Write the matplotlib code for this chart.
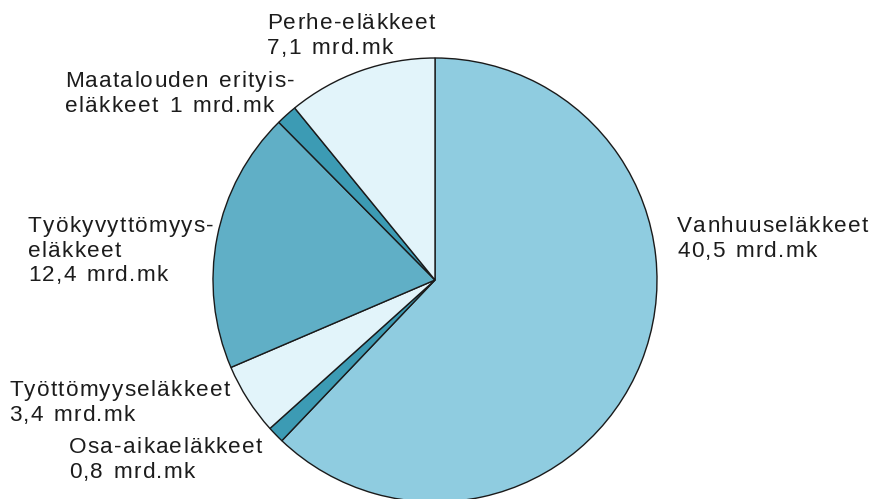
import matplotlib.pyplot as plt
from matplotlib.font_manager import FontProperties, findfont
from matplotlib.ft2font import FT2Font

# pension expenditure, clockwise from the top
labels = ["Vanhuuseläkkeet\n40,5 mrd.mk",
          "Osa-aikaeläkkeet\n0,8 mrd.mk",
          "Työttömyyseläkkeet\n3,4 mrd.mk",
          "Työkyvyttömyys-\neläkkeet\n12,4 mrd.mk",
          "Maatalouden erityis-\neläkkeet 1 mrd.mk",
          "Perhe-eläkkeet\n7,1 mrd.mk"]
values = [40.5, 0.8, 3.4, 12.4, 1.0, 7.1]
colors = ["#8fcce0", "#3c9bb4", "#e2f4fa", "#60afc6", "#3c9bb4", "#e2f4fa"]

# label left edge and first baseline, pixel coords from the top
label_pos = [(677, 232), (69, 453), (9, 396), (28, 232), (65, 87), (267, 29)]

W, H = 881, 499
FS = 16.2
TRACK = 1.3       # extra letter spacing in px
PITCH = 24.7      # line pitch in px

fig = plt.figure(figsize=(W / 100, H / 100), dpi=100)
ax = fig.add_axes([0, 0, 1, 1])

cx, cy, r = 435, H - 280, 222
ax.pie(values, colors=colors, startangle=90, counterclock=False,
       center=(cx, cy), radius=r,
       wedgeprops=dict(edgecolor="#1a1a1a", linewidth=1.0))

prop = FontProperties(family="Liberation Sans", size=FS)
ft = FT2Font(findfont(prop))
ft.set_size(FS, 100)


def advance(c):
    return ft.load_char(ord(c)).linearHoriAdvance / 65536


# the print uses wide letter spacing, so place letters one by one
for txt, (x0, y0) in zip(labels, label_pos):
    for i, line in enumerate(txt.split("\n")):
        x = x0
        y = H - (y0 + i * PITCH)
        for c in line:
            if c != " ":
                ax.text(x, y, c, fontproperties=prop, ha="left",
                        va="baseline", color="#1c1c1c")
                x += advance(c) + TRACK
            else:
                x += advance(c) + TRACK + 2

ax.set_xlim(0, W)
ax.set_ylim(0, H)
ax.set_aspect("auto")
ax.axis("off")

fig.savefig("out.png", dpi=100)
